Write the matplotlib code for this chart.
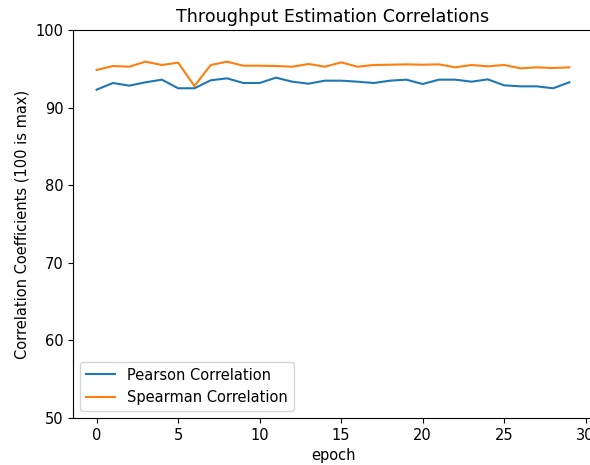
import numpy as np
import matplotlib
matplotlib.use('Agg')
import matplotlib.pyplot as plt

matplotlib.rc('font', size=10.5)

epochs = np.arange(30)
pearson = [92.31, 93.17, 92.83, 93.26, 93.60, 92.49, 92.49, 93.52, 93.77, 93.17,
           93.17, 93.86, 93.34, 93.08, 93.47, 93.47, 93.34, 93.17, 93.47, 93.60,
           93.04, 93.60, 93.60, 93.34, 93.64, 92.87, 92.74, 92.74, 92.49, 93.26]
spearman = [94.85, 95.36, 95.27, 95.92, 95.49, 95.79, 92.78, 95.49, 95.92, 95.40,
            95.40, 95.36, 95.27, 95.62, 95.27, 95.83, 95.27, 95.49, 95.53, 95.57,
            95.53, 95.57, 95.19, 95.49, 95.32, 95.49, 95.06, 95.19, 95.10, 95.19]

fig = plt.figure(figsize=(5.9, 4.65), dpi=100)
ax = fig.add_axes([73 / 590, 1 - 418 / 465, 520 / 590, 388 / 465])

ax.plot(epochs, pearson, label='Pearson Correlation')
ax.plot(epochs, spearman, label='Spearman Correlation')

ax.set_ylim(50, 100)
ax.set_title('Throughput Estimation Correlations')
ax.set_xlabel('epoch')
ax.set_ylabel('Correlation Coefficients (100 is max)')
ax.legend(loc='lower left')

fig.savefig('out.png', dpi=100)
